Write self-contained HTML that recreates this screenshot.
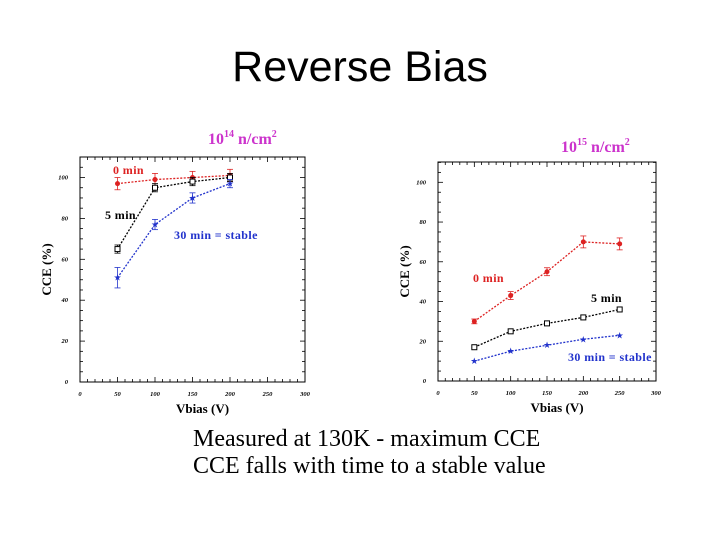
<!DOCTYPE html>
<html><head><meta charset="utf-8">
<style>
html,body{margin:0;padding:0;background:#fff;}
body{width:720px;height:540px;position:relative;overflow:hidden;}
#title{position:absolute;left:0;width:720px;top:42px;text-align:center;font:43px "Liberation Sans",sans-serif;color:#000;line-height:50px;}
#notes{position:absolute;left:193px;top:426px;font:24px "Liberation Serif",serif;line-height:27px;color:#000;white-space:nowrap;}
svg{position:absolute;left:0;top:0;}
</style></head>
<body>
<div id="title">Reverse Bias</div>
<div id="notes">
<div>Measured at 130K - maximum CCE</div>
<div>CCE falls with time to a stable value</div>
</div>
<svg id="svg" width="720" height="540" xmlns="http://www.w3.org/2000/svg"></svg>
<script>
// Left chart data (10^14 n/cm2)
const leftV = [50, 100, 150, 200];
const left0 = [97, 99, 100, 101];
const left0Err = [3, 3, 3, 3];
const left5 = [65, 95, 98, 100];
const left5Err = [2, 2, 2, 2];
const left30 = [51, 77, 90, 97];
const left30Err = [5, 2.5, 2.5, 2];
// Right chart data (10^15 n/cm2)
const rightV = [50, 100, 150, 200, 250];
const right0 = [30, 43, 55, 70, 69];
const right0Err = [1.2, 2, 2, 3, 3];
const right5 = [17, 25, 29, 32, 36];
const right30 = [10, 15, 18, 21, 23];
const xTicks = [0, 50, 100, 150, 200, 250, 300];
const yTicks = [0, 20, 40, 60, 80, 100];

const NS = "http://www.w3.org/2000/svg";
const svg = document.getElementById('svg');
function mk(tag, attrs, parent){
  const e = document.createElementNS(NS, tag);
  for (const k in attrs) e.setAttribute(k, attrs[k]);
  (parent||svg).appendChild(e);
  return e;
}
function chart(name, L, R, T, B, y0, y100){
  const g = mk('g', {});
  
  
  const sx = v => L + (R - L) * v / 300;
  const sy = v => y0 - (y0 - y100) * v / 100;
  mk('rect', {x:L, y:T, width:R-L, height:B-T, fill:'none', stroke:'#000', 'stroke-width':1}, g);
  for (let v = 0; v <= 300; v += 10) {
    const len = v % 50 === 0 ? 5 : 3;
    mk('line', {x1:sx(v), x2:sx(v), y1:B, y2:B-len, stroke:'#000','stroke-width':0.8}, g);
    mk('line', {x1:sx(v), x2:sx(v), y1:T, y2:T+len, stroke:'#000','stroke-width':0.8}, g);
  }
  for (let v = 0; sy(v) >= T; v += 5) {
    const len = v % 20 === 0 ? 5 : 3;
    mk('line', {x1:L, x2:L+len, y1:sy(v), y2:sy(v), stroke:'#000','stroke-width':0.8}, g);
    mk('line', {x1:R, x2:R-len, y1:sy(v), y2:sy(v), stroke:'#000','stroke-width':0.8}, g);
  }
  xTicks.forEach(v => {
    const t = mk('text', {x:sx(v), y:B+14, 'text-anchor':'middle', 'font-size':6.5, 'font-weight':'bold', 'font-style':'italic', 'font-family':'Liberation Serif, serif'}, g);
    t.textContent = v;
    
    
  });
  yTicks.forEach(v => {
    const t = mk('text', {x:L-12, y:sy(v)+2, 'text-anchor':'end', 'font-size':6.5, 'font-weight':'bold', 'font-style':'italic', 'font-family':'Liberation Serif, serif'}, g);
    t.textContent = v;
    
    
  });
  const xt = mk('text', {x:(L+R)/2+10, y:B+31, 'text-anchor':'middle', 'font-size':13, 'font-weight':'bold', 'font-family':'Liberation Serif, serif'}, g);
  xt.textContent = 'Vbias (V)';
  
  
  const yt = mk('text', {x:0, y:0, 'text-anchor':'middle', 'font-size':13, 'font-weight':'bold', 'font-family':'Liberation Serif, serif', transform:`translate(${L-29},${(T+B)/2}) rotate(-90)`}, g);
  yt.textContent = 'CCE (%)';
  
  
  return {g, sx, sy};
}
function series(c, name, xs, ys, errs, color, marker){
  const g = mk('g', {}, c.g);
  
  
  const pts = xs.map((x,i)=>c.sx(x)+','+c.sy(ys[i])).join(' ');
  mk('polyline', {points:pts, fill:'none', stroke:color, 'stroke-width':1.3, 'stroke-dasharray':'2,1.5'}, g);
  xs.forEach((x,i)=>{
    const px = c.sx(x), py = c.sy(ys[i]);
    if (errs) {
      const e = errs[i];
      mk('line', {x1:px, x2:px, y1:c.sy(ys[i]+e), y2:c.sy(ys[i]-e), stroke:color,'stroke-width':0.8}, g);
      mk('line', {x1:px-3, x2:px+3, y1:c.sy(ys[i]+e), y2:c.sy(ys[i]+e), stroke:color,'stroke-width':0.8}, g);
      mk('line', {x1:px-3, x2:px+3, y1:c.sy(ys[i]-e), y2:c.sy(ys[i]-e), stroke:color,'stroke-width':0.8}, g);
    }
    let m;
    if (marker === 'dot') m = mk('circle', {cx:px, cy:py, r:2.5, fill:color}, g);
    else if (marker === 'square') m = mk('rect', {x:px-2.5, y:py-2.5, width:5, height:5, fill:'#fff', stroke:color, 'stroke-width':1}, g);
    else m = mk('text', {x:px, y:py+3, 'text-anchor':'middle', 'font-size':9, fill:color}, g), m.textContent = '★';
    
    
  });
}
function label(c, txt, x, y, color, name){
  const t = mk('text', {x, y, fill:color, 'font-size':12, 'letter-spacing':0.4, 'font-weight':'bold', 'font-family':'Liberation Serif, serif'}, c.g);
  t.textContent = txt;
  
  
  return t;
}
function fluence(c, x, y, exp, name){
  const t = mk('text', {x, y, fill:'#cc33cc', 'font-size':16, 'font-weight':'bold', 'font-family':'Liberation Serif, serif'}, c.g);
  
  
  t.innerHTML = `10<tspan dy="-7" font-size="10">${exp}</tspan><tspan dy="7"> n/cm</tspan><tspan dy="-7" font-size="10">2</tspan>`;
}

const c1 = chart('chart-1e14', 80, 305, 157, 382, 382, 177.5);
series(c1, 'series-0min', leftV, left0, left0Err, '#dd2222', 'dot');
series(c1, 'series-5min', leftV, left5, left5Err, '#000', 'square');
series(c1, 'series-30min', leftV, left30, left30Err, '#2233cc', 'star');
label(c1, '0 min', 113, 174, '#dd2222', 'label-0min');
label(c1, '5 min', 105, 219, '#000', 'label-5min');
label(c1, '30 min = stable', 174, 239, '#2233cc', 'label-30min');
fluence(c1, 208, 144, '14', 'fluence-label');

const c2 = chart('chart-1e15', 438, 656, 162, 381, 381, 182.3);
series(c2, 'series-0min', rightV, right0, right0Err, '#dd2222', 'dot');
series(c2, 'series-5min', rightV, right5, null, '#000', 'square');
series(c2, 'series-30min', rightV, right30, null, '#2233cc', 'star');
label(c2, '0 min', 473, 282, '#dd2222', 'label-0min');
label(c2, '5 min', 591, 302, '#000', 'label-5min');
label(c2, '30 min = stable', 568, 361, '#2233cc', 'label-30min');
fluence(c2, 561, 152, '15', 'fluence-label');
</script>
</body></html>
